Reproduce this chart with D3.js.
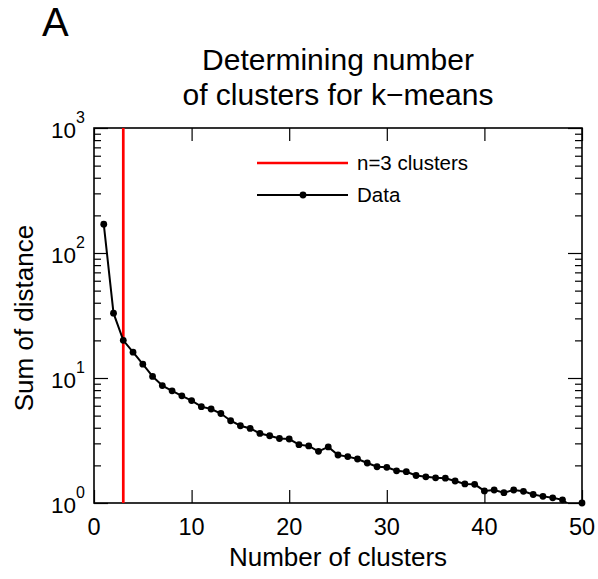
<!DOCTYPE html>
<html>
<head>
<meta charset="utf-8">
<script src="https://cdn.jsdelivr.net/npm/d3@7"></script>
<style>
  body { margin: 0; background: #fff; }
  text { font-family: "Liberation Sans", Arial, sans-serif; fill: #000; }
</style>
</head>
<body>
<svg width="598" height="579"></svg>
<script>
// number of clusters and sum of distance
var clusters = d3.range(1, 51);
var sumDist = [170, 33, 20, 16.1, 12.9, 10.3, 8.7, 7.9, 7.2, 6.6,
               5.9, 5.65, 5.2, 4.55, 4.15, 3.95, 3.6, 3.45, 3.28, 3.25,
               2.93, 2.86, 2.59, 2.81, 2.42, 2.35, 2.25, 2.09, 1.95, 1.93,
               1.81, 1.78, 1.66, 1.62, 1.59, 1.58, 1.50, 1.42, 1.41, 1.25,
               1.27, 1.21, 1.27, 1.24, 1.17, 1.13, 1.10, 1.06, 0.93, 1.0];
var chosenK = 3;
var xTicks = [0, 10, 20, 30, 40, 50];
var yDecades = [0, 1, 2, 3];
var legendLabels = ["n=3 clusters", "Data"];

var svg = d3.select("svg");
var pLeft = 94, pRight = 582, pTop = 128, pBottom = 503;

var x = d3.scaleLinear().domain([0, 50]).range([pLeft, pRight]);
var y = d3.scaleLog().domain([1, 1000]).range([pBottom, pTop]);

var data = clusters.map(function(k, i) { return {k: k, v: sumDist[i]}; });

svg.append("defs").append("clipPath").attr("id", "plotclip")
    .append("rect").attr("x", pLeft).attr("y", pTop)
    .attr("width", pRight - pLeft).attr("height", pBottom - pTop);

// ticks: major decades + minor 2..9
var minor = [];
yDecades.slice(0, -1).forEach(function(d) {
    for (var m = 2; m <= 9; m++) minor.push(m * Math.pow(10, d));
});
var majorY = yDecades.map(function(d) { return Math.pow(10, d); });

function styleAxis(g) {
    g.select(".domain").remove();
    g.selectAll("line").attr("stroke", "#000").attr("stroke-width", 1.2);
    g.selectAll("text").remove();
}

svg.append("g").attr("transform", "translate(0," + pBottom + ")")
    .call(d3.axisBottom(x).tickValues(xTicks).tickSize(-13)).call(styleAxis);
svg.append("g").attr("transform", "translate(0," + pTop + ")")
    .call(d3.axisTop(x).tickValues(xTicks).tickSize(-13)).call(styleAxis);

svg.append("g").attr("transform", "translate(" + pLeft + ",0)")
    .call(d3.axisLeft(y).tickValues(majorY).tickSize(-14)).call(styleAxis);
svg.append("g").attr("transform", "translate(" + pLeft + ",0)")
    .call(d3.axisLeft(y).tickValues(minor).tickSize(-7)).call(styleAxis);
svg.append("g").attr("transform", "translate(" + pRight + ",0)")
    .call(d3.axisRight(y).tickValues(majorY).tickSize(-14)).call(styleAxis);
svg.append("g").attr("transform", "translate(" + pRight + ",0)")
    .call(d3.axisRight(y).tickValues(minor).tickSize(-7)).call(styleAxis);

// x tick labels
svg.selectAll(".xlab").data(xTicks).enter().append("text")
    .attr("x", function(d) { return x(d); })
    .attr("y", pBottom + 32)
    .attr("text-anchor", "middle")
    .style("font-size", "23.5px")
    .text(function(d) { return d; });

// y tick labels 10^n
var ylab = svg.selectAll(".ylab").data(yDecades).enter().append("text")
    .attr("x", 85)
    .attr("y", function(d) { return y(Math.pow(10, d)) + 10; })
    .attr("text-anchor", "end")
    .style("font-size", "22.5px");
ylab.append("tspan").text("10");
ylab.append("tspan").attr("dy", -15).style("font-size", "16px")
    .text(function(d) { return d; });

// frame
svg.append("rect").attr("x", pLeft).attr("y", pTop)
    .attr("width", pRight - pLeft).attr("height", pBottom - pTop)
    .attr("fill", "none").attr("stroke", "#000").attr("stroke-width", 1.6);

// red line at chosen k
svg.append("line")
    .attr("x1", x(chosenK)).attr("x2", x(chosenK))
    .attr("y1", pTop).attr("y2", pBottom)
    .attr("stroke", "#ff0000").attr("stroke-width", 2.7);

// data line
var line = d3.line()
    .x(function(d) { return x(d.k); })
    .y(function(d) { return y(d.v); });

svg.append("path").datum(data)
    .attr("clip-path", "url(#plotclip)")
    .attr("d", line)
    .attr("fill", "none").attr("stroke", "#000").attr("stroke-width", 2);

svg.selectAll(".pt").data(data.filter(function(d) { return d.v >= 1; }))
    .enter().append("circle")
    .attr("cx", function(d) { return x(d.k); })
    .attr("cy", function(d) { return y(d.v); })
    .attr("r", 3.4).attr("fill", "#000");

// legend
var lg = svg.append("g");
lg.append("line").attr("x1", 257).attr("x2", 348).attr("y1", 163).attr("y2", 163)
    .attr("stroke", "#ff0000").attr("stroke-width", 2.7);
lg.append("line").attr("x1", 257).attr("x2", 348).attr("y1", 195).attr("y2", 195)
    .attr("stroke", "#000").attr("stroke-width", 2);
lg.append("circle").attr("cx", 303).attr("cy", 195).attr("r", 3.4).attr("fill", "#000");
lg.selectAll("text").data(legendLabels).enter().append("text")
    .attr("x", 357)
    .attr("y", function(d, i) { return 163 + i * 32 + 7; })
    .style("font-size", "20.5px")
    .text(function(d) { return d; });

// titles and labels
svg.append("text").attr("x", 338).attr("y", 70).attr("text-anchor", "middle")
    .style("font-size", "30px").text("Determining number");
svg.append("text").attr("x", 338).attr("y", 105).attr("text-anchor", "middle")
    .style("font-size", "30px").text("of clusters for k\u2212means");

svg.append("text").attr("x", 338).attr("y", 566).attr("text-anchor", "middle")
    .style("font-size", "26px").text("Number of clusters");

svg.append("text")
    .attr("transform", "translate(33,318) rotate(-90)")
    .attr("text-anchor", "middle")
    .style("font-size", "26px").text("Sum of distance");

svg.append("text").attr("x", 42).attr("y", 36)
    .style("font-size", "40px").text("A");
</script>
</body>
</html>
